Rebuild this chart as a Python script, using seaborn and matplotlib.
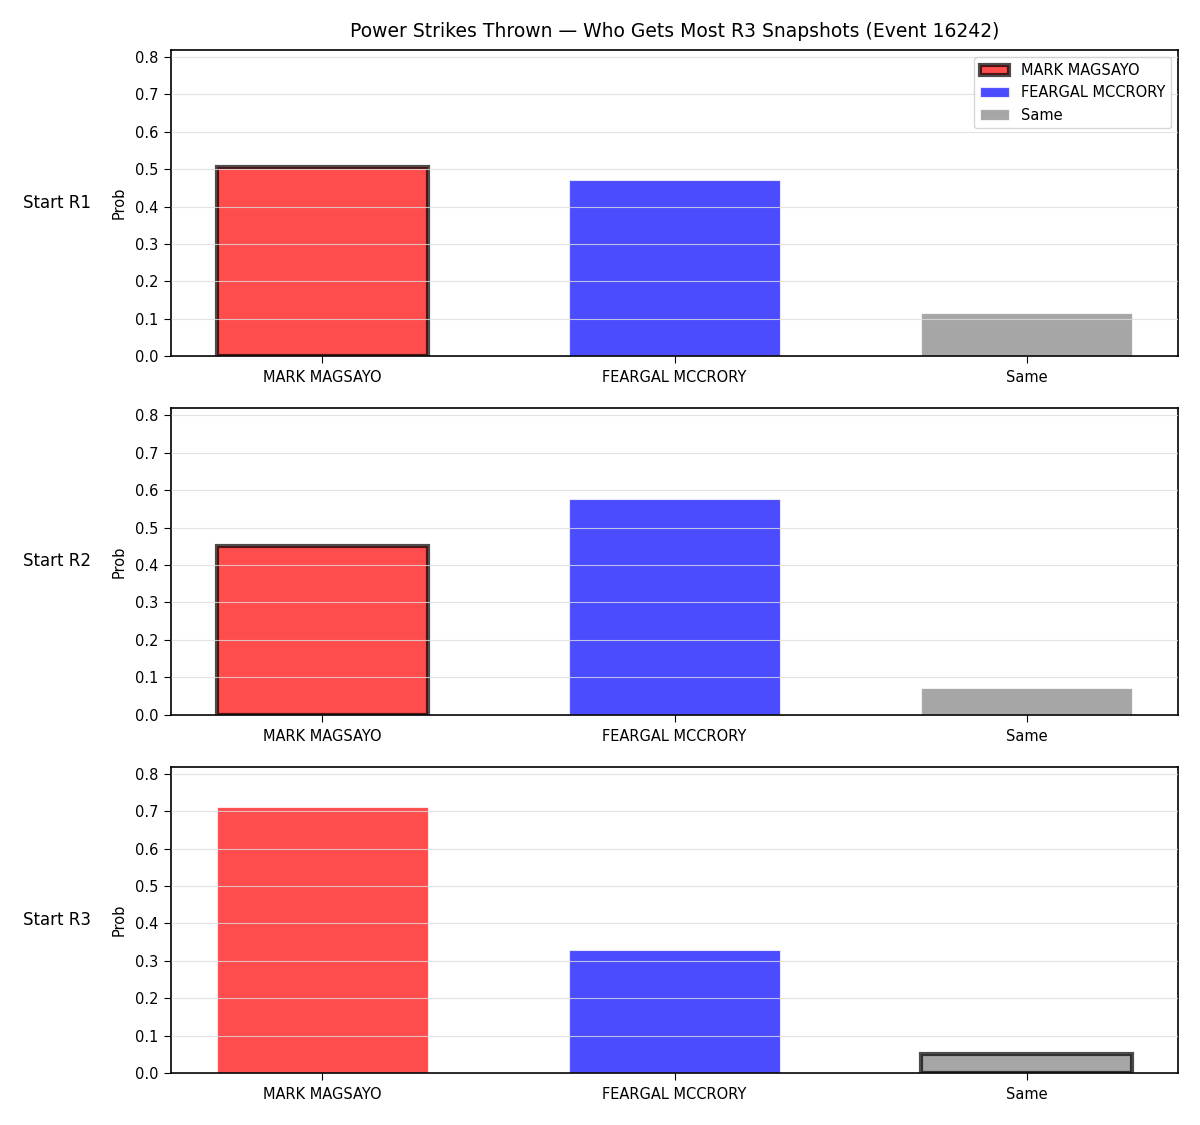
import matplotlib
matplotlib.use('Agg')
import matplotlib.pyplot as plt
import pandas as pd
import seaborn as sns

categories = ['MARK MAGSAYO', 'FEARGAL MCCRORY', 'Same']
rounds = ['Start R1', 'Start R2', 'Start R3']
r1_probs = [0.507, 0.472, 0.115]
r2_probs = [0.450, 0.577, 0.070]
r3_probs = [0.712, 0.330, 0.050]
# which outcome gets the black outline in each row
outlined = ['MARK MAGSAYO', 'MARK MAGSAYO', 'Same']
colors = ['red', 'blue', 'gray']

all_probs = [r1_probs, r2_probs, r3_probs]

plt.rcParams['axes.linewidth'] = 1.2
plt.rcParams['xtick.major.size'] = 5
plt.rcParams['ytick.major.size'] = 5
plt.rcParams['xtick.major.pad'] = 5
plt.rcParams['ytick.major.pad'] = 4

fig, axes = plt.subplots(3, 1, figsize=(12, 11.25), dpi=100)
fig.subplots_adjust(left=0.1425, right=0.9817, top=0.9556, bottom=0.0462, hspace=0.17)

ymax = max(max(p) for p in all_probs) * 1.15

for ax, label, probs, hl in zip(axes, rounds, all_probs, outlined):
    df = pd.DataFrame({'who': categories, 'prob': probs})
    sns.barplot(data=df, x='who', y='prob', hue='who', palette=colors,
                order=categories, hue_order=categories, saturation=1,
                width=0.6, alpha=0.7, legend=False, ax=ax,
                edgecolor='white', linewidth=0.8)
    for name, bar in zip(categories, ax.patches):
        if name == hl:
            bar.set_edgecolor('black')
            bar.set_linewidth(3)
    ax.set_ylim(0, ymax)
    ax.set_xlim(-0.43, 2.43)
    ax.set_xlabel('')
    ax.set_ylabel('Prob', fontsize=10.5, labelpad=6)
    ax.grid(axis='y', color='#dddddd', linewidth=0.8, alpha=0.8)
    ax.set_axisbelow(False)
    ax.tick_params(labelsize=10.5)
    ax.text(-0.147, 0.5, label, transform=ax.transAxes, fontsize=12,
            ha='left', va='center')

handles = axes[0].patches[:3]
axes[0].legend(handles, categories, loc='upper right', fontsize=10.5)

axes[0].set_title('Power Strikes Thrown \u2014 Who Gets Most R3 Snapshots (Event 16242)',
                  fontsize=13.5, pad=9)

fig.savefig('out.png', dpi=100)
